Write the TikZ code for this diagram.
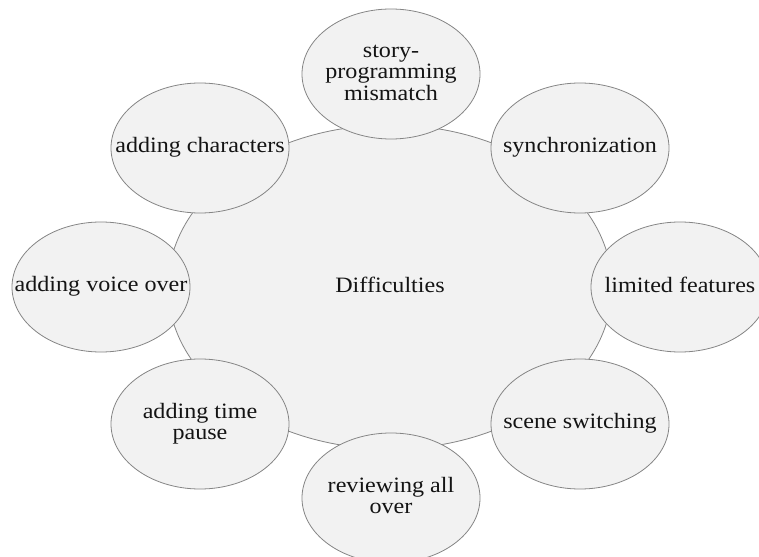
\documentclass[tikz,border=0pt]{standalone}
\usepackage{fontspec}
\setmainfont[FakeStretch=1.1]{Liberation Serif}
\usetikzlibrary{shapes.geometric}
\definecolor{bubblefill}{HTML}{F2F2F2}
\definecolor{bubbleline}{HTML}{858585}
\definecolor{bubbletext}{HTML}{141414}
% centred label that does not widen the ellipse around it
\newcommand\bubtext[1]{\raisebox{-11.5bp}{\makebox[0pt]{\smash{\begin{tabular}{@{}c@{}}#1\end{tabular}}}}}
\begin{document}
\begin{tikzpicture}[x=1bp,y=-1bp,
  bubble/.style={ellipse, draw=bubbleline, line width=0.8bp, fill=bubblefill,
    inner sep=0pt, text=bubbletext,
    font=\fontsize{22}{21.5}\selectfont},
  hub/.style={bubble, minimum width=444bp, minimum height=324bp},
  spoke/.style={bubble, minimum width=178bp, minimum height=130bp}]
\useasboundingbox (0,0) rectangle (759,557);
\fill[white] (0,0) rectangle (759,557);
% central topic
\node[hub] (hub) at (390,287) {\bubtext{Difficulties}};
% surrounding difficulties, clockwise from the top
\node[spoke] (story)  at (391,74)  {\bubtext{story-\\programming\\mismatch}};
\node[spoke] (sync)   at (580,148) {\bubtext{synchronization}};
\node[spoke] (limit)  at (680,287) {\bubtext{limited features}};
\node[spoke] (scene)  at (580,424) {\bubtext{scene switching}};
\node[spoke] (review) at (391,498) {\bubtext{reviewing all\\over}};
\node[spoke] (pause)  at (200,424) {\bubtext{adding time\\pause}};
\node[spoke] (voice)  at (101,287) {\bubtext{adding voice over}};
\node[spoke] (chars)  at (200,148) {\bubtext{adding characters}};
\end{tikzpicture}
\end{document}
